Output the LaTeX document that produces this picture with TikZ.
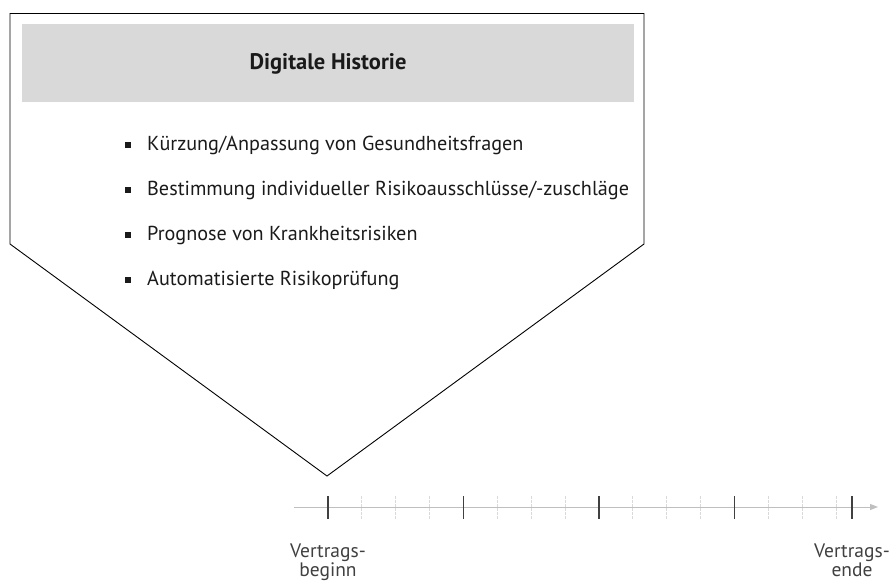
\documentclass[tikz,border=0pt]{standalone}
\usepackage{fontspec}
\setmainfont{PT Sans}
\usetikzlibrary{arrows.meta}
\definecolor{hdrgray}{HTML}{D9D9D9}
\definecolor{axisgray}{HTML}{BFBFBF}
\definecolor{minorgray}{HTML}{D9D9D9}
\definecolor{majorgray}{HTML}{404040}
\definecolor{txt}{HTML}{1A1A1A}
\definecolor{lbl}{HTML}{404040}
\begin{document}
\begin{tikzpicture}[x=1pt,y=-1pt,
  outline/.style={draw=black,line width=0.9pt,line join=miter},
  header/.style={fill=hdrgray,draw=none},
  titletext/.style={font=\fontsize{22.5}{24}\selectfont\bfseries,text=txt},
  itemtext/.style={font=\fontsize{20.2}{22}\selectfont,text=txt,anchor=west,inner sep=0pt},
  bulletsq/.style={fill=txt,draw=none,minimum size=5.5pt,inner sep=0pt},
  axisline/.style={draw=axisgray,line width=1pt,-{Triangle[length=8pt,width=6pt]}},
  majortick/.style={draw=majorgray,line width=1.3pt},
  minortick/.style={draw=minorgray,line width=0.8pt,dash pattern=on 3pt off 1pt},
  labeltext/.style={font=\fontsize{19.5}{17.5}\selectfont,text=lbl,align=center,inner sep=0pt}
]
\useasboundingbox (0,0) rectangle (891,582);
% pentagon outline
\coordinate (p1) at (10,13.5);
\coordinate (p2) at (644,13.5);
\coordinate (p3) at (644,244);
\coordinate (p4) at (327,476);
\coordinate (p5) at (10,244);
\draw[outline] (p1) -- (p2) -- (p3) -- (p4) -- (p5) -- cycle;
% header
\fill[header] (22,24) rectangle (634,102);
\node[titletext] (title) at (328,64) {Digitale Historie};
% items
\foreach \y/\t [count=\i] in {145/{Kürzung/Anpassung von Gesundheitsfragen},
  190/{Bestimmung individueller Risikoausschlüsse/-zuschläge},
  235/{Prognose von Krankheitsrisiken},
  280/{Automatisierte Risikoprüfung}}{
  \node[bulletsq] (b\i) at (128,\y) {};
  \node[itemtext] (t\i) at (147,\y) {\t};
}
% timeline
\coordinate (axs) at (294,507);
\coordinate (axe) at (878,507);
\foreach \k in {1,...,15}{
  \coordinate (mt\k) at ({328+\k*33.875},496);
  \coordinate (mb\k) at ({328+\k*33.875},519);
  \draw[minortick] (mt\k) -- (mb\k);
}
\draw[axisline] (axs) -- (axe);
\foreach \x [count=\j] in {328,463.5,599,734.5,852}{
  \coordinate (Mt\j) at (\x,496);
  \coordinate (Mb\j) at (\x,519);
  \draw[majortick] (Mt\j) -- (Mb\j);
}
\node[labeltext,anchor=north] (lstart) at (328,544) {Vertrags-\\beginn};
\node[labeltext,anchor=north] (lend) at (852,544) {Vertrags-\\ende};
\end{tikzpicture}
\end{document}
